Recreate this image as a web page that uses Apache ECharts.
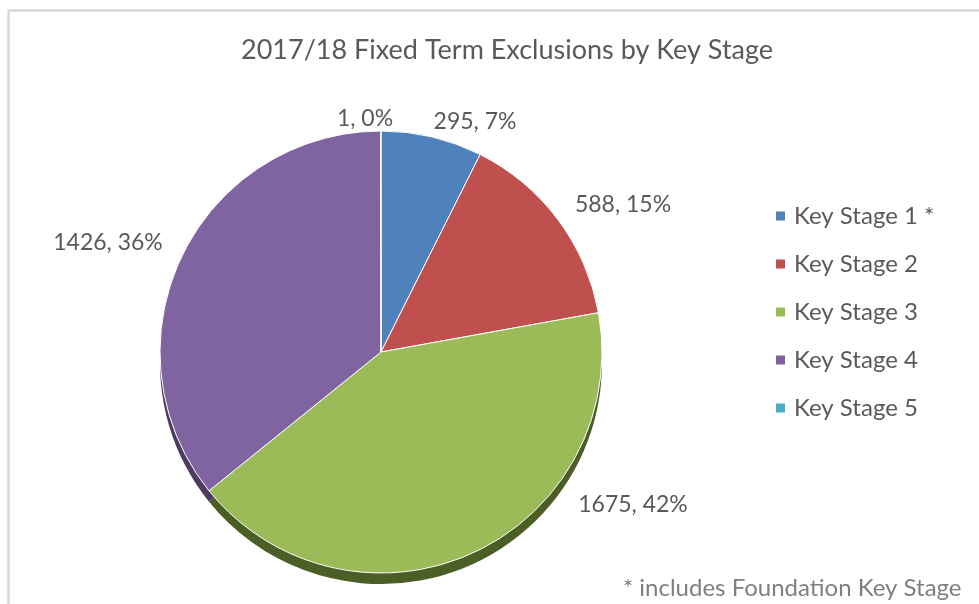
<!DOCTYPE html>
<html>
<head>
<meta charset="utf-8">
<script src="https://cdn.jsdelivr.net/npm/echarts@6/dist/echarts.min.js"></script>
<style>
html,body{margin:0;padding:0;background:#fff;}
#chart{width:979px;height:604px;}
</style>
</head>
<body>
<div id="chart"></div>
<script>
// ---- data ----
const categories = ['Key Stage 1 *', 'Key Stage 2', 'Key Stage 3', 'Key Stage 4', 'Key Stage 5'];
const values = [295, 588, 1675, 1426, 1];
const titleText = '2017/18 Fixed Term Exclusions by Key Stage';
const footnoteText = '* includes Foundation Key Stage';

// ---- styles ----
const topColors = ['#4F81BD', '#C0504D', '#9BBB59', '#8064A2', '#4BACC6'];
const sideColors = ['#2E4D73', '#74302E', '#4A5E25', '#4C3B63', '#2A6B7C'];
const labelPos = [[475, 122], [623, 205], [633, 505], [108, 243], [365, 119]];
const FONT = 'Lato, "Open Sans", sans-serif';

const chart = echarts.init(document.getElementById('chart'));
const frontData = categories.map((c, i) => ({ name: c, value: values[i], itemStyle: { color: topColors[i] } }));
const backData = categories.map((c, i) => ({ name: c, value: values[i], itemStyle: { color: sideColors[i] } }));

chart.setOption({
  backgroundColor: '#fff',
  animation: false,
  title: {
    text: titleText,
    left: 236,
    top: 32,
    textStyle: { fontFamily: FONT, fontSize: 27, fontWeight: 'normal', color: '#595959' }
  },
  legend: {
    orient: 'vertical',
    left: 774,
    top: 204,
    padding: 0,
    itemWidth: 11,
    itemHeight: 11,
    itemGap: 24,
    icon: 'rect',
    data: categories,
    textStyle: { fontFamily: FONT, fontSize: 24, color: '#595959', lineHeight: 24, padding: [0, 0, 0, 3] }
  },
  graphic: [
    { type: 'rect', shape: { x: 8.5, y: 10.5, width: 1100, height: 1000 }, style: { fill: 'none', stroke: '#D9D9D9', lineWidth: 2.5 }, silent: true, z: 0 },
    { type: 'text', style: { x: 623, y: 588, text: footnoteText, font: '24px ' + FONT, fill: '#7F7F7F', verticalAlign: 'middle' }, silent: true }
  ],
  series: [
    {
      type: 'pie',
      name: 'front',
      center: [381, 352],
      radius: [0, 221],
      startAngle: 90,
      clockwise: true,
      avoidLabelOverlap: false,
      z: 3,
      data: frontData,
      itemStyle: { borderColor: '#ffffff', borderWidth: 1 },
      label: {
        show: true,
        position: 'outside',
        fontFamily: FONT,
        fontSize: 23,
        color: '#595959',
        formatter: p => p.value + ', ' + Math.round(p.percent) + '%'
      },
      labelLine: { show: false },
      labelLayout: p => ({ x: labelPos[p.dataIndex][0], y: labelPos[p.dataIndex][1], align: 'center', verticalAlign: 'middle' }),
      emphasis: { scale: false }
    },
    {
      type: 'pie',
      name: 'side',
      center: [381, 363],
      radius: [0, 221],
      startAngle: 90,
      clockwise: true,
      silent: true,
      legendHoverLink: false,
      z: 2,
      data: backData,
      itemStyle: { borderColor: 'rgba(0,0,0,0)', borderWidth: 0 },
      label: { show: false },
      labelLine: { show: false }
    }
  ]
});
</script>
</body>
</html>
